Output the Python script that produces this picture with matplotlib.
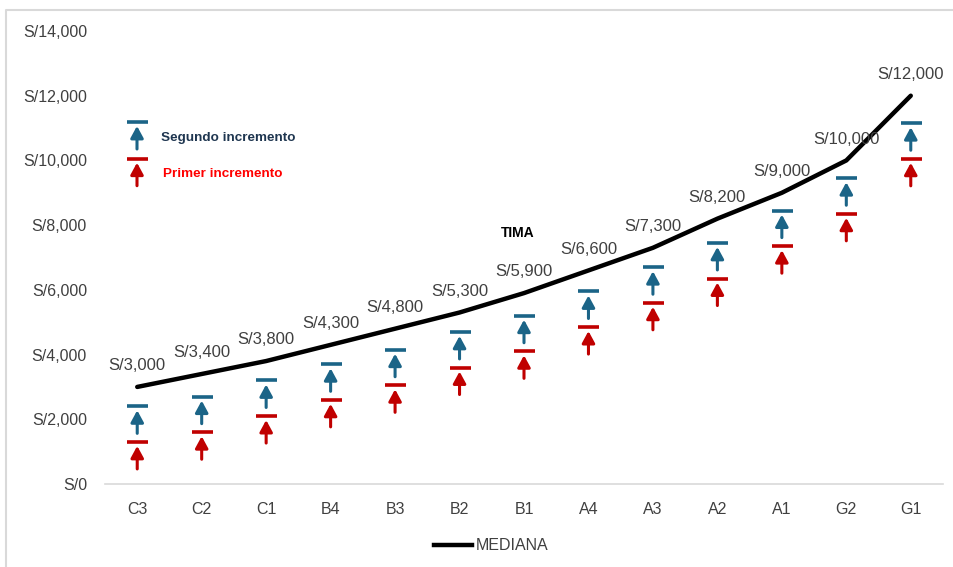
import matplotlib.pyplot as plt
from matplotlib.lines import Line2D
import numpy as np

# data
grades = ['C3', 'C2', 'C1', 'B4', 'B3', 'B2', 'B1', 'A4', 'A3', 'A2', 'A1', 'G2', 'G1']
mediana = [3000, 3400, 3800, 4300, 4800, 5300, 5900, 6600, 7300, 8200, 9000, 10000, 12000]
segundo = [2400, 2700, 3200, 3700, 4150, 4700, 5200, 5950, 6700, 7450, 8450, 9450, 11150]
primer = [1300, 1600, 2100, 2600, 3050, 3600, 4100, 4850, 5600, 6350, 7350, 8350, 10050]
yticks = np.arange(0, 14001, 2000)

BLUE = '#1b6487'
RED = '#c00000'
GRID = '#d9d9d9'
TXT = '#404040'
NARROW = ['Liberation Sans Narrow', 'Liberation Sans', 'DejaVu Sans']
PX = 0.72  # points per pixel at dpi 100


def draw_mark(ax, x, y, color, coords='data'):
    # bar on top, arrow pointing up at it
    ax.plot([x], [y], ls='none', marker='_', ms=21 * PX, mew=2.6,
            color=color, transform=ax.transData if coords == 'data' else ax.transAxes,
            zorder=3, clip_on=False)
    ax.annotate('', xy=(x, y), xycoords=coords,
                xytext=(0, -27 * PX), textcoords='offset points',
                arrowprops=dict(arrowstyle='-|>,head_length=0.7,head_width=0.38',
                                mutation_scale=10, color=color, lw=2.2,
                                shrinkA=0, shrinkB=4 * PX),
                zorder=3)


fig = plt.figure(figsize=(9.54, 5.67), dpi=100)
ax = fig.add_axes([105 / 954, 1 - 484 / 567, 838 / 954, 453 / 567])

x = np.arange(len(grades))
ax.plot(x, mediana, color='black', lw=3.2, solid_capstyle='round', zorder=4)
for xi, v in zip(x, mediana):
    ax.annotate(f'S/{v:,.0f}', xy=(xi, v), xytext=(0, 10), textcoords='offset points',
                ha='center', va='bottom', fontsize=12, color=TXT,
                family=['Liberation Sans', 'DejaVu Sans'], zorder=5)

for xi, b, r in zip(x, segundo, primer):
    draw_mark(ax, xi, b, BLUE)
    draw_mark(ax, xi, r, RED)

ax.text(5.9, 7750, 'TIMA', ha='center', va='center', fontsize=10, fontweight='bold',
        color='black', family=['Liberation Sans', 'DejaVu Sans'])

# legend of the two increments (top left)
lx = (137 - 105) / 838
draw_mark(ax, lx, (484 - 122) / 453, BLUE, coords='axes fraction')
draw_mark(ax, lx, (484 - 158.7) / 453, RED, coords='axes fraction')
ax.text(lx + 24 / 838, (484 - 138) / 453, 'Segundo incremento', transform=ax.transAxes,
        ha='left', va='center', fontsize=9.7, fontweight='bold', color='#1f3650',
        family=['Liberation Sans', 'DejaVu Sans'])
ax.text(lx + 26 / 838, (484 - 174) / 453, 'Primer incremento', transform=ax.transAxes,
        ha='left', va='center', fontsize=9.7, fontweight='bold', color='#ff0000',
        family=['Liberation Sans', 'DejaVu Sans'])

ax.set_xlim(-0.5, len(grades) - 0.5)
ax.set_ylim(0, 14000)
ax.set_yticks(yticks)
ax.set_yticklabels([f'S/{v:,.0f}' for v in yticks], family=NARROW, fontsize=11.5, color=TXT)
ax.set_xticks(x)
ax.set_xticklabels(grades, family=NARROW, fontsize=11.5, color=TXT)
ax.tick_params(axis='y', length=0, pad=13)
ax.tick_params(axis='x', length=0, pad=13)
for s in ['top', 'right', 'left']:
    ax.spines[s].set_visible(False)
ax.spines['bottom'].set_color(GRID)
ax.spines['bottom'].set_linewidth(1.2)

handle = Line2D([], [], color='black', lw=3.2)
fig.legend([handle], ['MEDIANA'], loc='center', bbox_to_anchor=(491 / 954, 1 - 546 / 567),
           frameon=False, handlelength=2.4, handletextpad=0.2,
           prop={'family': NARROW, 'size': 11.5}, labelcolor=TXT)

# chart border
fig.add_artist(Line2D([6 / 954, 6 / 954, 1], [0, 1 - 10 / 567, 1 - 10 / 567],
                      color=GRID, lw=1.5, transform=fig.transFigure))

fig.savefig('out.png', dpi=100)
